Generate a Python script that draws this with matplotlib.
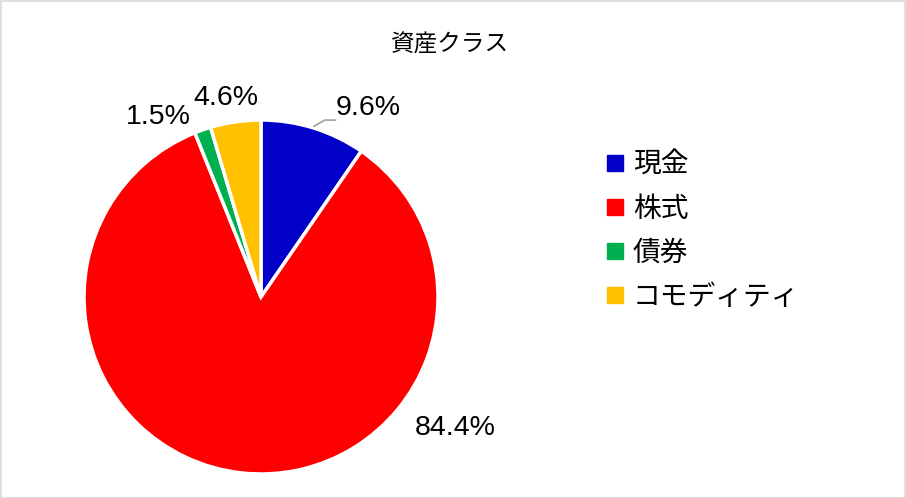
import matplotlib
matplotlib.use("Agg")
import matplotlib.pyplot as plt
from matplotlib.patches import Rectangle
from matplotlib.lines import Line2D
import numpy as np

plt.rcParams["font.family"] = ["Noto Sans CJK JP", "DejaVu Sans"]

# data
categories = ["現金", "株式", "債券", "コモディティ"]
shares = [9.6, 84.4, 1.5, 4.6]
colors = ["#0000C8", "#FF0000", "#00B050", "#FFC000"]
title = "資産クラス"

W, H = 906, 498
fig = plt.figure(figsize=(W / 100, H / 100), dpi=100)

cx, cy, r = 261, 297, 177
ax = fig.add_axes([(cx - r) / W, (H - cy - r) / H, 2 * r / W, 2 * r / H])
wedges, _ = ax.pie(shares, colors=colors, startangle=90, counterclock=False,
                   wedgeprops=dict(edgecolor="white", linewidth=2.5))
ax.set_xlim(-1, 1)
ax.set_ylim(-1, 1)
ax.axis("off")

# label centres in pixels of the figure (layout only)
label_px = [(368, 108), (455, 428), (158, 117), (226, 98)]
for val, (px, py) in zip(shares, label_px):
    x, y = (px - cx) / r, (cy - py) / r
    ax.text(x, y, f"{val:.1f}%", ha="center", va="center", fontsize=20.5,
            family=["Liberation Sans", "DejaVu Sans"], clip_on=False)

# leader line for the first slice
w0 = wedges[0]
m0 = np.deg2rad((w0.theta1 + w0.theta2) / 2)
p0 = (1.01 * np.cos(m0), 1.01 * np.sin(m0))
ax.plot([p0[0], p0[0] + 0.06, p0[0] + 0.12], [p0[1], p0[1] + 0.035, p0[1] + 0.035],
        color="#A6A6A6", lw=1.3, clip_on=False)

fig.text(450 / W, 1 - 45 / H, title, ha="center", va="center", fontsize=17)

handles = [Line2D([], [], marker="s", linestyle="none", markersize=11,
                  markerfacecolor=c, markeredgecolor=c) for c in colors]
fig.legend(handles, categories, loc="upper left", bbox_to_anchor=(576 / W, 1 - 125 / H),
           frameon=False, fontsize=20, handletextpad=0.15, labelspacing=0.5,
           handlelength=1.0)

fig.add_artist(Rectangle((0.5 / W, 0.5 / H), 1 - 1.5 / W, 1 - 1.5 / H,
                         transform=fig.transFigure, fill=False,
                         edgecolor="#D9D9D9", lw=1.2))

fig.savefig("out.png", dpi=100, facecolor="white")
